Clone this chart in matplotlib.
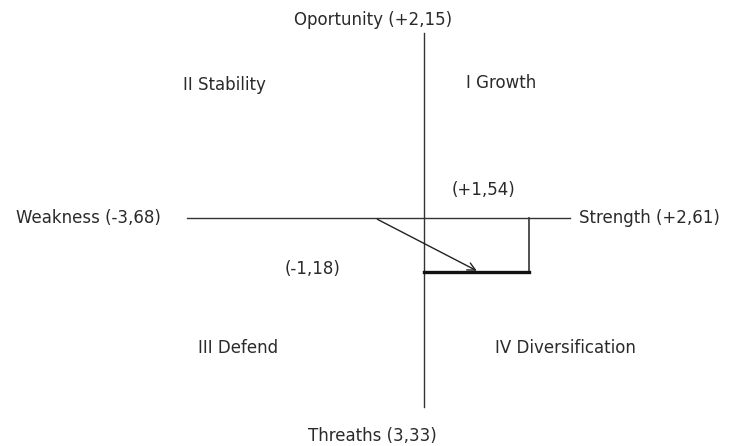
import matplotlib.pyplot as plt

# axis labels (text) and the resulting point
axis_labels = ["Oportunity (+2,15)", "Weakness (-3,68)", "Strength (+2,61)", "Threaths (3,33)"]
quadrants = ["I Growth", "II Stability", "III Defend", "IV Diversification"]
point_x = 1.54
point_y = -1.18
point_labels = ["(+1,54)", "(-1,18)"]
arrow_start = (-0.72, 0.0)
arrow_end = (0.81, -1.18)

fig = plt.figure(figsize=(7.37, 4.46), dpi=100)
ax = fig.add_axes([0, 0, 1, 1])
ax.set_xlim(-6.217, 4.589)
ax.set_ylim(-4.978, 4.76)
ax.axis('off')

line_c = '#333333'
txt_c = '#2a2a2a'
fs = 12

# main axes
ax.plot([-3.475, 2.14], [0, 0], color=line_c, lw=1)
ax.plot([0, 0], [-4.13, 4.04], color=line_c, lw=1)

# resulting point box
ax.plot([point_x, point_x], [0, point_y], color=line_c, lw=1.2)
ax.plot([0, point_x], [point_y, point_y], color='#111111', lw=2.4)

# arrow
ax.annotate('', xy=arrow_end, xytext=arrow_start,
            arrowprops=dict(arrowstyle='->', color='#222222', lw=1, mutation_scale=14))

# axis labels
ax.text(-0.75, 4.33, axis_labels[0], ha='center', va='center', fontsize=fs, color=txt_c)
ax.text(-4.92, 0, axis_labels[1], ha='center', va='center', fontsize=fs, color=txt_c)
ax.text(3.31, 0, axis_labels[2], ha='center', va='center', fontsize=fs, color=txt_c)
ax.text(-0.75, -4.76, axis_labels[3], ha='center', va='center', fontsize=fs, color=txt_c)

# quadrant labels
ax.text(1.13, 2.95, quadrants[0], ha='center', va='center', fontsize=fs, color=txt_c)
ax.text(-2.92, 2.9, quadrants[1], ha='center', va='center', fontsize=fs, color=txt_c)
ax.text(-2.73, -2.84, quadrants[2], ha='center', va='center', fontsize=fs, color=txt_c)
ax.text(2.08, -2.84, quadrants[3], ha='center', va='center', fontsize=fs, color=txt_c)

# point labels
ax.text(0.87, 0.61, point_labels[0], ha='center', va='center', fontsize=fs, color=txt_c)
ax.text(-1.63, -1.11, point_labels[1], ha='center', va='center', fontsize=fs, color=txt_c)

plt.savefig("out.png", dpi=100)
